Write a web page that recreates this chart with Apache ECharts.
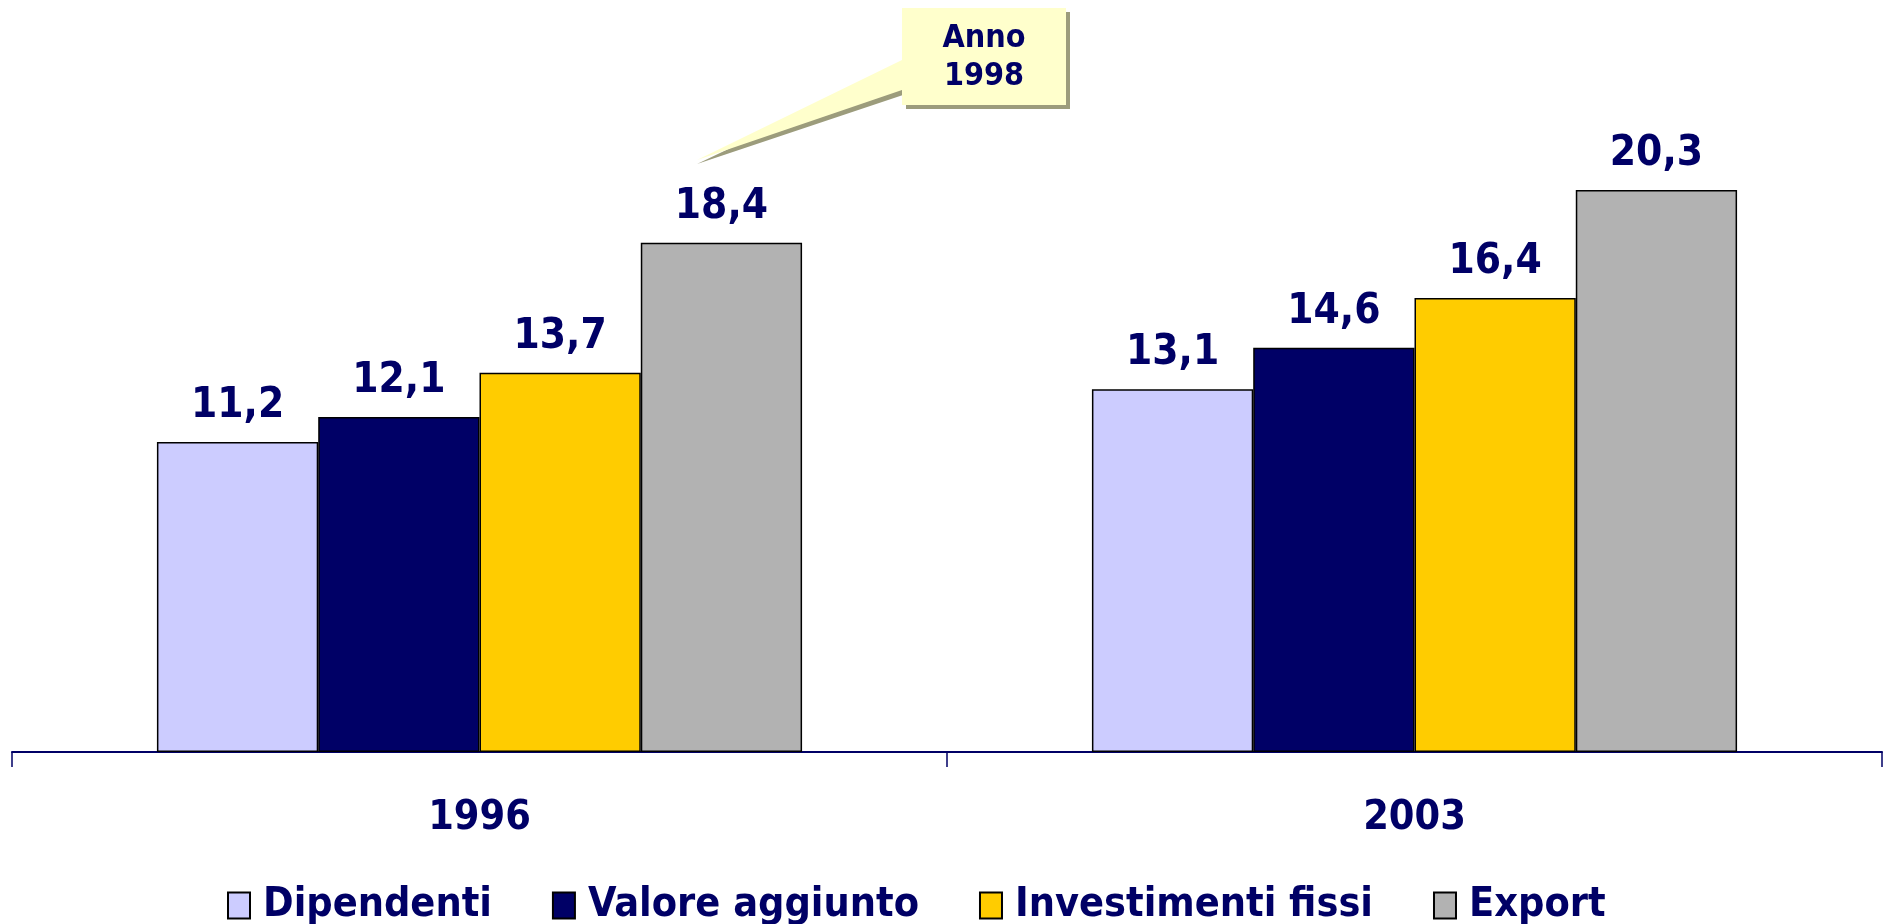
<!DOCTYPE html>
<html>
<head>
<meta charset="utf-8">
<title>Dipendenti, valore aggiunto, investimenti, export</title>
<script src="https://cdn.jsdelivr.net/npm/echarts@6/dist/echarts.min.js"></script>
<style>
  html, body { margin: 0; padding: 0; background: #fff; }
  #chart { width: 1890px; height: 924px; }
</style>
</head>
<body>
<div id="chart"></div>
<script>
// dati
var years = ['1996', '2003'];
var seriesNames = ['Dipendenti', 'Valore aggiunto', 'Investimenti fissi', 'Export'];
var dipendenti = [11.2, 13.1];
var valoreAggiunto = [12.1, 14.6];
var investimenti = [13.7, 16.4];
var exportVal = [18.4, 20.3];
var colors = ['#CCCCFF', '#000066', '#FFCC00', '#B2B2B2'];
var navy = '#000066';
var font = "'DejaVu Sans Condensed', 'DejaVu Sans', sans-serif";

var chart = echarts.init(document.getElementById('chart'));

function barSeries(name, data, color) {
  return {
    name: name,
    type: 'bar',
    data: data,
    barGap: 0,
    barCategoryGap: '31%',
    itemStyle: { color: color, borderColor: '#000', borderWidth: 1.5 },
    label: {
      show: true,
      position: 'top',
      distance: 15,
      color: navy,
      fontFamily: font,
      fontWeight: 'bold',
      fontSize: 42,
      formatter: function (p) { return String(p.value).replace('.', ','); }
    }
  };
}

var option = {
  animation: false,
  color: colors,
  grid: { left: 12, right: 8, top: 143, bottom: 172 },
  legend: {
    top: 880,
    left: 222,
    icon: 'rect',
    itemWidth: 22,
    itemHeight: 26,
    itemGap: 60,
    itemStyle: { borderColor: '#000', borderWidth: 2 },
    textStyle: { color: navy, fontFamily: font, fontWeight: 'bold', fontSize: 41, padding: [0, 0, 0, 8] },
    data: seriesNames
  },
  xAxis: {
    type: 'category',
    data: years,
    axisLine: { lineStyle: { color: navy, width: 2 } },
    axisTick: { show: true, inside: false, length: 15, lineStyle: { color: navy, width: 1.5 } },
    axisLabel: { margin: 46, color: navy, fontFamily: font, fontWeight: 'bold', fontSize: 41 }
  },
  yAxis: {
    type: 'value',
    min: 0,
    max: 22,
    show: false,
    splitLine: { show: false }
  },
  series: [
    barSeries(seriesNames[0], dipendenti, colors[0]),
    barSeries(seriesNames[1], valoreAggiunto, colors[1]),
    barSeries(seriesNames[2], investimenti, colors[2]),
    barSeries(seriesNames[3], exportVal, colors[3])
  ],
  graphic: [
    {
      type: 'polygon',
      shape: { points: [[906, 12], [1070, 12], [1070, 109], [906, 109], [906, 94], [697, 164], [906, 64]] },
      style: { fill: '#9c9c7c' },
      z: 10
    },
    {
      type: 'polygon',
      shape: { points: [[902, 8], [1066, 8], [1066, 105], [902, 105], [902, 90], [697, 160], [902, 60]] },
      style: { fill: '#FFFFCC' },
      z: 11
    },
    {
      type: 'text',
      x: 984,
      y: 58,
      style: {
        text: 'Anno\n1998',
        fill: navy,
        font: 'bold 32px ' + font,
        textAlign: 'center',
        textVerticalAlign: 'middle',
        lineHeight: 38
      },
      z: 12
    }
  ]
};

chart.setOption(option);
</script>
</body>
</html>
